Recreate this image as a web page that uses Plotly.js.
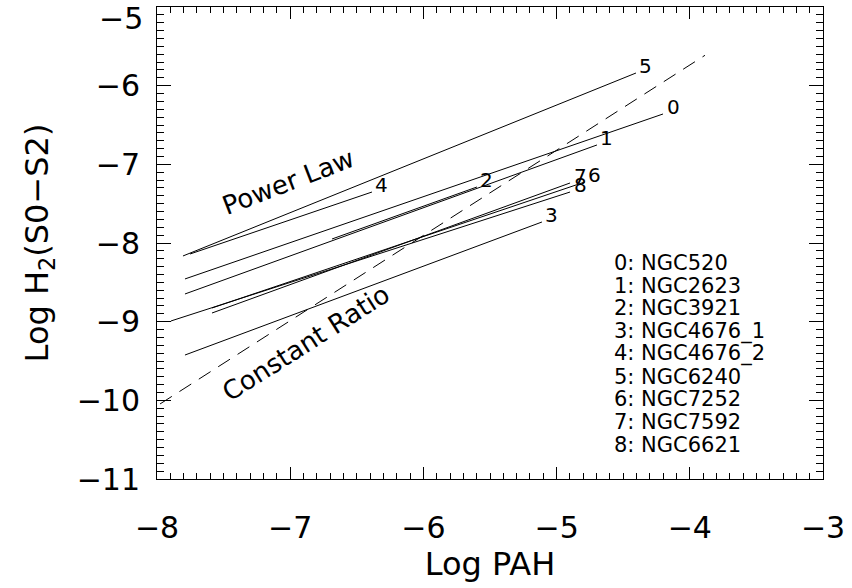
<!DOCTYPE html>
<html>
<head>
<meta charset="utf-8">
<script src="https://cdn.plot.ly/plotly-3.0.1.min.js"></script>
<style>html,body{margin:0;padding:0;background:#fff;}#chart{width:852px;height:588px;}</style>
</head>
<body>
<div id="chart"></div>
<script>
// Line labels (galaxy index) and galaxy names
const lineIds = ['0', '1', '2', '3', '4', '5', '6', '7', '8'];
const galaxyNames = ['NGC520', 'NGC2623', 'NGC3921', 'NGC4676_1', 'NGC4676_2', 'NGC6240', 'NGC7252', 'NGC7592', 'NGC6621'];
// Power-law fit segments: Log PAH (x) and Log H2(S0-S2) (y) at start and end
const xStart = [-7.790, -7.790, -6.686, -7.790, -7.752, -7.805, -7.587, -7.587, -7.895];
const yStart = [-8.457, -8.648, -7.949, -9.424, -8.140, -8.165, -8.826, -8.890, -8.991];
const xEnd   = [-4.201, -4.697, -5.598, -5.110, -6.386, -4.404, -4.787, -4.899, -4.899];
const yEnd   = [-6.360, -6.754, -7.288, -7.733, -7.352, -5.839, -7.224, -7.237, -7.352];
// Constant ratio reference line
const ratioX = [-7.977, -3.886];
const ratioY = [-10.046, -5.614];
// Axis ticks
const xTicks = [-8, -7, -6, -5, -4, -3];
const yTicks = [-11, -10, -9, -8, -7, -6];
const yTopLabel = '\u22125';

const FONT = 'DejaVu Sans, sans-serif';
const traces = [];
for (let i = 0; i < lineIds.length; i++) {
  traces.push({
    type: 'scatter', mode: 'lines',
    x: [xStart[i], xEnd[i]], y: [yStart[i], yEnd[i]],
    line: {color: '#000', width: 1}, hoverinfo: 'skip', showlegend: false
  });
}
traces.push({
  type: 'scatter', mode: 'lines', x: ratioX, y: ratioY,
  line: {color: '#000', width: 1, dash: '14px,9px'}, hoverinfo: 'skip', showlegend: false
});

const annotations = [];
for (let i = 0; i < lineIds.length; i++) {
  annotations.push({
    x: xEnd[i], y: yEnd[i], xref: 'x', yref: 'y', text: lineIds[i],
    showarrow: false, xanchor: 'center', yanchor: 'middle', xshift: 10, yshift: 7,
    font: {family: FONT, size: 20, color: '#000'}
  });
}
// list of galaxies
for (let i = 0; i < galaxyNames.length; i++) {
  annotations.push({
    xref: 'paper', yref: 'paper', x: (612 - 157) / 666, y: 1 - (263 + 22.7 * i - 7) / 472,
    text: lineIds[i] + ': ' + galaxyNames[i], showarrow: false,
    xanchor: 'left', yanchor: 'middle',
    font: {family: FONT, size: 21, color: '#000'}
  });
}
annotations.push({
  xref: 'paper', yref: 'paper', x: (288 - 157) / 666, y: 1 - (182 - 7) / 472,
  text: 'Power Law', showarrow: false, textangle: -21,
  xanchor: 'center', yanchor: 'middle', font: {family: FONT, size: 26, color: '#000'}
});
annotations.push({
  xref: 'paper', yref: 'paper', x: (306 - 157) / 666, y: 1 - (343 - 7) / 472,
  text: 'Constant Ratio', showarrow: false, textangle: -32.4,
  xanchor: 'center', yanchor: 'middle', font: {family: FONT, size: 26, color: '#000'}
});
// top y tick label, kept inside the page
annotations.push({
  xref: 'paper', yref: 'paper', x: 0, xshift: -12, y: 1, yshift: -11,
  text: yTopLabel, showarrow: false, xanchor: 'right', yanchor: 'middle',
  font: {family: FONT, size: 30, color: '#000'}
});

const axisCommon = {
  showgrid: false, zeroline: false, showline: true, linecolor: '#000', linewidth: 1,
  mirror: 'allticks', ticks: 'inside', tickcolor: '#000', tickwidth: 1,
  tickfont: {family: FONT, size: 30, color: '#000'}
};
const layout = {
  width: 852, height: 588,
  margin: {l: 157, r: 29, t: 7, b: 109},
  paper_bgcolor: '#fff', plot_bgcolor: '#fff',
  showlegend: false,
  xaxis: Object.assign({}, axisCommon, {
    range: [-8, -3], tickvals: xTicks, ticklen: 12, ticklabelstandoff: 22,
    minor: {dtick: 0.1, ticks: 'inside', ticklen: 6, tickcolor: '#000', showgrid: false},
    title: {text: 'Log PAH', font: {family: FONT, size: 32, color: '#000'}, standoff: 8}
  }),
  yaxis: Object.assign({}, axisCommon, {
    range: [-11, -5], tickvals: yTicks, ticklen: 14, ticklabelstandoff: 10,
    minor: {dtick: 0.1, ticks: 'inside', ticklen: 7, tickcolor: '#000', showgrid: false},
    title: {text: 'Log H<sub>2</sub>(S0\u2212S2)', font: {family: FONT, size: 32, color: '#000'}, standoff: 18}
  }),
  annotations: annotations
};
Plotly.newPlot('chart', traces, layout, {staticPlot: true, displayModeBar: false});
</script>
</body>
</html>
